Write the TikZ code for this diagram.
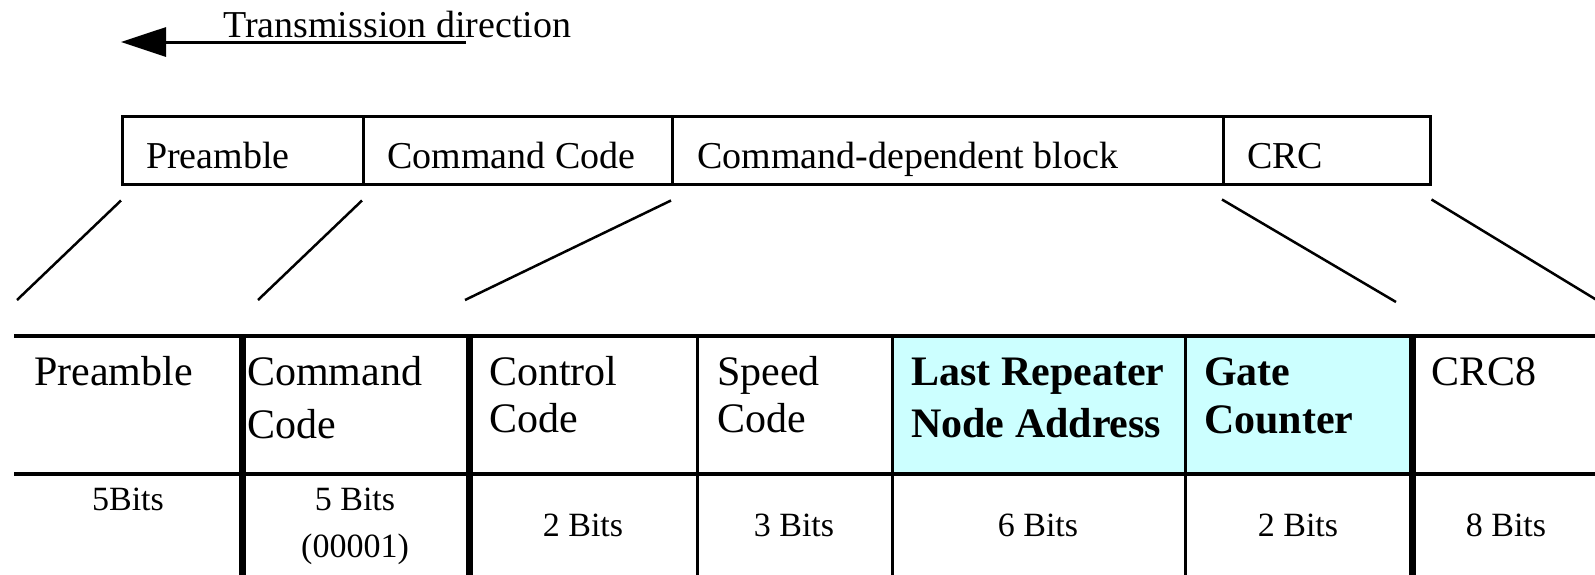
\documentclass[tikz,border=0pt]{standalone}
\usepackage{fontspec}
\setmainfont{Liberation Serif}
\usetikzlibrary{arrows.meta,calc}
\definecolor{hilite}{HTML}{CCFFFF}

\begin{document}
\begin{tikzpicture}[x=1pt,y=-1pt,
  field/.style={draw, line width=2.5pt, minimum height=68pt, inner sep=0pt, anchor=north west},
  toplabel/.style={anchor=base west, inner sep=0pt, font=\fontsize{38}{44}\selectfont},
  head/.style={anchor=base west, inner sep=0pt, font=\fontsize{42}{50}\selectfont},
  headbf/.style={anchor=base west, inner sep=0pt, font=\fontsize{42}{50}\selectfont\bfseries},
  bits/.style={anchor=base, inner sep=0pt, font=\fontsize{34}{40}\selectfont},
  zoomline/.style={line width=2.5pt},
  rulethin/.style={line width=3pt},
  rulebold/.style={line width=7pt},
]
\useasboundingbox (0,0) rectangle (1595,574);

% transmission direction
\coordinate (arrStart) at (466,42);
\coordinate (arrEnd) at (121,42);
\draw[line width=3pt, -{Triangle[length=45pt,width=29pt]}] (arrStart) -- (arrEnd);
\node[toplabel] (dir) at (223,37) {Transmission direction};

% frame overview
\node[field, minimum width=241pt] (pre) at (121,115) {};
\node[field, minimum width=309pt] (cmd) at (362,115) {};
\node[field, minimum width=551pt] (dep) at (671,115) {};
\node[field, minimum width=207pt] (crc) at (1222,115) {};
\node[toplabel] (preT) at (146,168) {Preamble};
\node[toplabel] (cmdT) at (387,168) {Command Code};
\node[toplabel] (depT) at (697,168) {Command-dependent block};
\node[toplabel] (crcT) at (1247,168) {CRC};

% expansion lines
\coordinate (e1) at (17,300);
\coordinate (e2) at (258,300);
\coordinate (e3) at (465,300);
\coordinate (e4) at (1396,302);
\coordinate (e5) at (1600,302);
\draw[zoomline] ($(pre.south west)+(0,15)$) -- (e1);
\draw[zoomline] ($(cmd.south west)+(0,15)$) -- (e2);
\draw[zoomline] ($(dep.south west)+(0,15)$) -- (e3);
\draw[zoomline] ($(crc.south west)+(0,14)$) -- (e4);
\draw[zoomline] ($(crc.south east)+(0,14)$) -- (e5);

% detailed field table
\fill[hilite] (892,336) rectangle (1412,474);
\draw[line width=3.5pt] (14,336) -- (1600,336);
\draw[line width=4pt] (14,474) -- (1600,474);
\foreach \xx in {242,469,1412} \draw[rulebold] (\xx,334) -- (\xx,580);
\foreach \xx in {697,892,1185} \draw[rulethin] (\xx,334) -- (\xx,580);

% field names
\node[head] (h1) at (34,385) {Preamble};
\node[head] (h2a) at (247,385) {Command};
\node[head] (h2b) at (247,438) {Code};
\node[head] (h3a) at (489,385) {Control};
\node[head] (h3b) at (489,432) {Code};
\node[head] (h4a) at (717,385) {Speed};
\node[head] (h4b) at (717,432) {Code};
\node[headbf] (h5a) at (911,385) {Last Repeater};
\node[headbf] (h5b) at (911,437) {Node Address};
\node[headbf] (h6a) at (1204,385) {Gate};
\node[headbf] (h6b) at (1204,433) {Counter};
\node[head] (h7) at (1431,385) {CRC8};

% field sizes
\node[bits] (b1) at (128,510) {5Bits};
\node[bits] (b2a) at (355,510) {5 Bits};
\node[bits] (b2b) at (355,557) {(00001)};
\node[bits] (b3) at (583,536) {2 Bits};
\node[bits] (b4) at (794,536) {3 Bits};
\node[bits] (b5) at (1038,536) {6 Bits};
\node[bits] (b6) at (1298,536) {2 Bits};
\node[bits] (b7) at (1506,536) {8 Bits};
\end{tikzpicture}
\end{document}
